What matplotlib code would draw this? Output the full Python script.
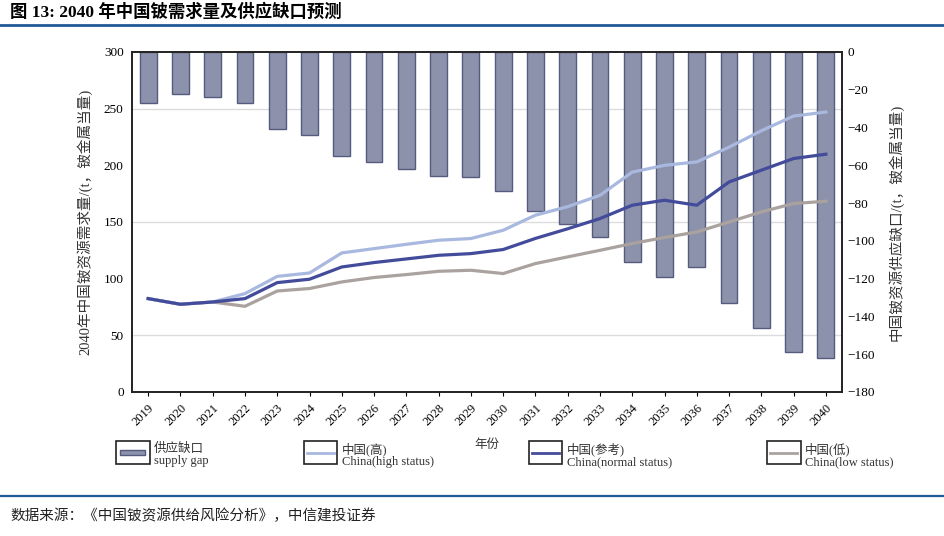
import numpy as np
import matplotlib.pyplot as plt
from matplotlib.lines import Line2D
from matplotlib.patches import Rectangle
from matplotlib.legend_handler import HandlerBase

plt.rcParams['font.family'] = ['Liberation Serif', 'Noto Sans CJK SC', 'DejaVu Sans']
plt.rcParams['axes.unicode_minus'] = True

years = [str(y) for y in range(2019, 2041)]
gap = [-27, -22, -24, -27, -41, -44, -55, -58, -62, -65.5, -66, -73.5,
       -84, -91, -98, -111, -119, -114, -133, -146, -159, -162]
high = [82.4, 77.4, 79.4, 86.8, 102, 105, 122.7, 126.5, 130.3, 133.9, 135.4, 142.7,
        156, 163.5, 173.5, 194, 200, 203, 216, 230.5, 243.5, 247]
normal = [82.4, 77.4, 79.4, 82.4, 96.5, 99.5, 110.3, 114.2, 117.4, 120.6, 122.1, 125.7,
          135.5, 144, 153, 164.8, 169.2, 164.8, 185.3, 195.7, 206, 209.8]
low = [82.4, 77.4, 79.4, 75.6, 89.1, 91.3, 97.1, 101, 103.6, 106.5, 107.4, 104.5,
       113.3, 119.2, 125, 131, 136.3, 141.2, 150, 158.9, 166.3, 168.3]

bar_fill = '#8d92ac'
bar_edge = '#555b7e'
c_high = '#a8b8df'
c_normal = '#434b9b'
c_low = '#aaa29e'


class BoxHandler(HandlerBase):
    def create_artists(self, legend, orig, xd, yd, width, height, fontsize, trans):
        box = Rectangle((xd, yd - 0.55 * height), width, height * 2.1,
                        facecolor='white', edgecolor='#222222', lw=1.2, transform=trans)
        arts = [box]
        if getattr(orig, 'is_bar', False):
            inner = Rectangle((xd + 0.12 * width, yd + 0.3 * height), 0.76 * width,
                              0.4 * height, facecolor=bar_fill, edgecolor=bar_edge,
                              lw=1.0, transform=trans)
            arts.append(inner)
        else:
            ln = Line2D([xd + 0.1 * width, xd + 0.9 * width],
                        [yd + 0.5 * height, yd + 0.5 * height],
                        color=orig.get_color(), lw=2.0, transform=trans)
            arts.append(ln)
        return arts


fig = plt.figure(figsize=(9.45, 5.36), dpi=100)
ax = fig.add_axes([0.1397, 0.2687, 0.7513, 0.6343])
axl = ax.twinx()

x = np.arange(len(years))

# bars on right scale
ax.bar(x, gap, width=0.52, color=bar_fill, edgecolor=bar_edge, linewidth=1.0, zorder=2)
ax.set_ylim(-180, 0)
ax.set_xlim(-0.5, len(years) - 0.5)
ax.yaxis.tick_right()
ax.yaxis.set_label_position('right')
ax.set_yticks(np.arange(-180, 1, 20))
ax.set_yticklabels([f'{v:d}'.replace('-', '\u2212') for v in range(-180, 1, 20)])

# left-scale grid drawn behind the bars
left_ticks = np.arange(0, 301, 50)
ax.set_yticks((left_ticks[1:-1] - 300) * 180 / 300, minor=True)
ax.grid(which='minor', axis='y', color='#dcdcdc', lw=1.0, zorder=0)
ax.set_axisbelow(True)
ax.tick_params(axis='y', which='both', length=0, labelsize=9.5, pad=4)

# lines on left scale
axl.plot(x, low, color=c_low, lw=2.3, zorder=3)
axl.plot(x, high, color=c_high, lw=2.3, zorder=3)
axl.plot(x, normal, color=c_normal, lw=2.3, zorder=4)
axl.set_ylim(0, 300)
axl.yaxis.tick_left()
axl.yaxis.set_label_position('left')
axl.set_yticks(left_ticks)
axl.tick_params(axis='y', length=0, labelsize=9.5, pad=6)

ax.set_xticks(x)
ax.set_xticklabels(years, rotation=45, ha='right', va='top', rotation_mode='anchor')
ax.tick_params(axis='x', length=3, labelsize=9, pad=4)

for a in (ax, axl):
    for s in a.spines.values():
        s.set_color('#222222')
        s.set_linewidth(1.2)

axl.set_ylabel('2040年中国铍资源需求量/(t，铍金属当量)', fontsize=10.5, color='#333333', labelpad=8)
ax.set_ylabel('中国铍资源供应缺口/(t，铍金属当量)', fontsize=10.5, color='#333333',
              rotation=90, labelpad=9)
ax.set_xlabel('年份', fontsize=9, color='#333333', labelpad=8)

# legend
h_gap = Line2D([], [], color=bar_fill)
h_gap.is_bar = True
h_high = Line2D([], [], color=c_high)
h_norm = Line2D([], [], color=c_normal)
h_low = Line2D([], [], color=c_low)
leg = ax.legend([h_gap, h_high, h_norm, h_low],
                ['供应缺口\nsupply gap', '中国(高)\nChina(high status)',
                 '中国(参考)\nChina(normal status)', '中国(低)\nChina(low status)'],
                handler_map={Line2D: BoxHandler()}, ncol=4, frameon=False,
                fontsize=9, handlelength=2.7, handleheight=1.0, handletextpad=0.35,
                columnspacing=7.6, labelspacing=0.2,
                loc='center', bbox_to_anchor=(0.534, 0.151), bbox_transform=fig.transFigure)
for t in leg.get_texts():
    t.set_color('#333333')
    t.set_linespacing(1.0)

# header and footer
fig.text(0.011, 0.977, '图 13: 2040 年中国铍需求量及供应缺口预测', fontsize=12.5,
         fontweight='bold', ha='left', va='center', color='black')
fig.add_artist(Line2D([0, 1], [1 - 25 / 536, 1 - 25 / 536], color='#1f5a96', lw=2.0,
                      transform=fig.transFigure))
fig.add_artist(Line2D([0, 1], [1 - 496 / 536, 1 - 496 / 536], color='#1f5a96', lw=1.6,
                      transform=fig.transFigure))
fig.text(0.011, 1 - 516 / 536, '数据来源：《中国铍资源供给风险分析》，中信建投证券',
         fontsize=10.5, ha='left', va='center', color='#222222')

fig.savefig('out.png', dpi=100)
